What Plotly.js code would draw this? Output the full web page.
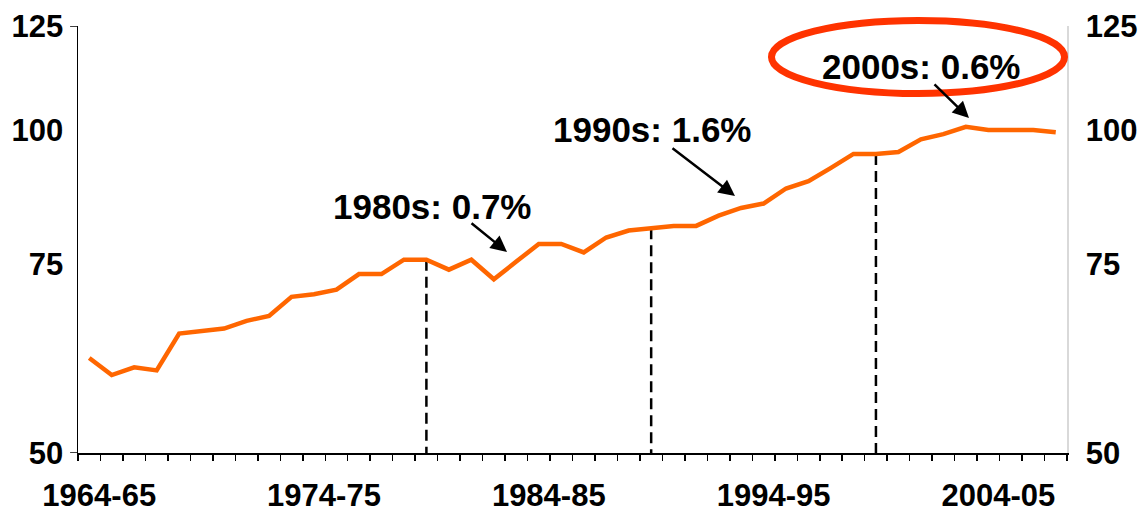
<!DOCTYPE html>
<html>
<head>
<meta charset="utf-8">
<script src="https://cdn.plot.ly/plotly-3.0.1.min.js"></script>
<style>
  html, body { margin: 0; padding: 0; background: #ffffff; }
  #chart { width: 1144px; height: 514px; }
</style>
</head>
<body>
<div id="chart"></div>
<script>
// ---- data ----
const categories = [
  '1964-65','1965-66','1966-67','1967-68','1968-69','1969-70','1970-71','1971-72','1972-73','1973-74',
  '1974-75','1975-76','1976-77','1977-78','1978-79','1979-80','1980-81','1981-82','1982-83','1983-84',
  '1984-85','1985-86','1986-87','1987-88','1988-89','1989-90','1990-91','1991-92','1992-93','1993-94',
  '1994-95','1995-96','1996-97','1997-98','1998-99','1999-00','2000-01','2001-02','2002-03','2003-04',
  '2004-05','2005-06','2006-07','2007-08'
];
const values = [
  61.3, 59.1, 60.1, 59.7, 64.6, 65.0, 65.3, 66.4, 67.1, 69.9,
  70.3, 71.0, 73.4, 73.4, 75.7, 75.7, 74.1, 75.7, 72.6, 75.4,
  78.3, 78.3, 76.9, 79.4, 80.6, 81.0, 81.4, 81.4, 83.2, 84.6,
  85.4, 88.2, 89.6, 92.2, 95.0, 95.0, 95.4, 98.0, 99.1, 100.7,
  100.0, 100.0, 100.0, 99.5
];
const shownTickLabels = ['1964-65','1974-75','1984-85','1994-95','2004-05'];
const yTickValues = [50, 75, 100, 125];
const yTickLabels = ['50', '75', '100', '125'];
const decadeStarts = ['1979-80', '1989-90', '1999-00'];
const decadeLabels = ['1980s: 0.7%', '1990s: 1.6%', '2000s: 0.6%'];

// ---- styling ----
const FONT = 'Liberation Sans, Arial, Helvetica, sans-serif';
const yMin = 50, yMax = 125;
const bold = s => s ? '<b>' + s + '</b>' : '';

const trace = {
  x: categories,
  y: values,
  type: 'scatter',
  mode: 'lines',
  line: { color: '#FF6600', width: 4.5 },
  hoverinfo: 'skip',
  showlegend: false
};

const shapes = [];
// dashed decade dividers from the line down to the axis
decadeStarts.forEach(c => {
  const i = categories.indexOf(c);
  shapes.push({
    type: 'line', xref: 'x', yref: 'y',
    x0: c, x1: c, y0: values[i], y1: yMin,
    line: { color: '#000000', width: 2.5, dash: '11px,6px' },
    layer: 'below'
  });
});
// short outside ticks on left axis at the bounds
[yMin, yMax].forEach(v => {
  shapes.push({
    type: 'line', xref: 'paper', yref: 'y',
    x0: -0.008, x1: 0, y0: v, y1: v,
    line: { color: '#000000', width: 1.5 }
  });
});
// highlight ellipse around the 2000s label
shapes.push({
  type: 'circle', xref: 'paper', yref: 'paper',
  x0: 0.7012, x1: 0.9975, y0: 0.8419, y1: 1.0129,
  line: { color: '#FF3300', width: 7 },
  fillcolor: 'rgba(0,0,0,0)'
});

const textPos = [
  { x: 0.3584, y: 0.578 },
  { x: 0.5804, y: 0.757 },
  { x: 0.8524, y: 0.906 }
];
const arrowPos = [
  { x: 0.4338, y: 0.4707, ax: -37, ay: -30 },
  { x: 0.6643, y: 0.6019, ax: -64, ay: -49 },
  { x: 0.9009, y: 0.7845, ax: -36, ay: -35 }
];
const annotations = [];
decadeLabels.forEach((t, k) => {
  annotations.push({
    xref: 'paper', yref: 'paper', x: textPos[k].x, y: textPos[k].y,
    text: bold(t), showarrow: false, xanchor: 'center', yanchor: 'middle',
    font: { family: FONT, size: 35, color: '#000000' }
  });
  annotations.push({
    xref: 'paper', yref: 'paper', x: arrowPos[k].x, y: arrowPos[k].y,
    ax: arrowPos[k].ax, ay: arrowPos[k].ay, axref: 'pixel', ayref: 'pixel',
    text: '', showarrow: true, arrowhead: 2, arrowsize: 1.3, arrowwidth: 2.5,
    arrowcolor: '#000000', standoff: 0, startstandoff: 0
  });
});

const layout = {
  width: 1144, height: 514,
  margin: { l: 78, r: 77, t: 26, b: 61, pad: 0 },
  paper_bgcolor: '#ffffff', plot_bgcolor: '#ffffff',
  showlegend: false,
  font: { family: FONT, color: '#000000' },
  xaxis: {
    type: 'category',
    range: [-0.5, categories.length - 0.5],
    tickmode: 'array',
    tickvals: categories,
    ticktext: categories.map(c => shownTickLabels.includes(c) ? bold(c) : ''),
    tickson: 'boundaries',
    ticks: 'outside', ticklen: 6, tickwidth: 1.5, tickcolor: '#000000',
    showline: true, linecolor: '#000000', linewidth: 1.5,
    showgrid: false, zeroline: false,
    tickangle: 0,
    ticklabelstandoff: 14,
    ticklabelshift: 10,
    tickfont: { family: FONT, size: 31, color: '#000000' },
    fixedrange: true
  },
  yaxis: {
    type: 'log',
    range: [Math.log10(yMin), Math.log10(yMax)],
    tickmode: 'array', tickvals: yTickValues, ticktext: yTickLabels.map(bold),
    ticks: '',
    showline: true, linecolor: '#000000', linewidth: 1.5,
    showgrid: false, zeroline: false,
    ticklabelstandoff: 7,
    tickfont: { family: FONT, size: 31, color: '#000000' },
    fixedrange: true
  },
  yaxis2: {
    type: 'log', overlaying: 'y', side: 'right',
    range: [Math.log10(yMin), Math.log10(yMax)],
    tickmode: 'array', tickvals: yTickValues, ticktext: yTickLabels.map(bold),
    ticks: '',
    showline: true, linecolor: '#d9d9d9', linewidth: 1.5,
    showgrid: false, zeroline: false,
    ticklabelstandoff: 11,
    tickfont: { family: FONT, size: 31, color: '#000000' },
    fixedrange: true
  },
  shapes: shapes,
  annotations: annotations
};

const trace2 = {
  x: categories, y: values, yaxis: 'y2', type: 'scatter', mode: 'lines',
  line: { width: 0, color: 'rgba(0,0,0,0)' }, hoverinfo: 'skip', showlegend: false
};

Plotly.newPlot('chart', [trace2, trace], layout, { displayModeBar: false, staticPlot: true });
</script>
</body>
</html>
